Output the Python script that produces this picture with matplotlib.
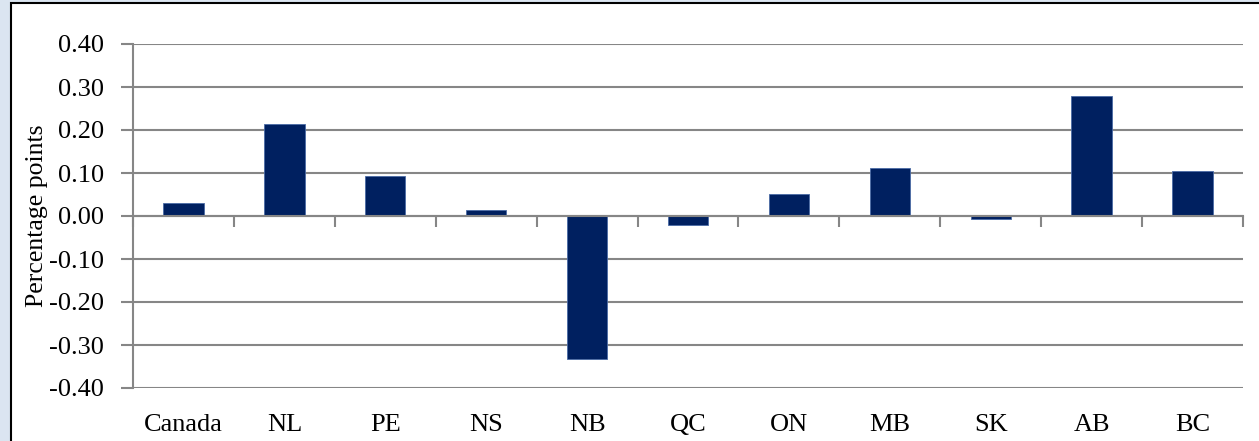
import numpy as np
import matplotlib.pyplot as plt
from matplotlib.patches import Rectangle

provinces = ['Canada', 'NL', 'PE', 'NS', 'NB', 'QC', 'ON', 'MB', 'SK', 'AB', 'BC']
change_pts = [0.030, 0.215, 0.092, 0.013, -0.333, -0.022, 0.052, 0.112, -0.007, 0.279, 0.104]
y_ticks = [-0.4, -0.3, -0.2, -0.1, 0.0, 0.1, 0.2, 0.3, 0.4]

plt.rcParams['font.family'] = ['Liberation Serif', 'DejaVu Serif']

fig = plt.figure(figsize=(12.59, 4.41), dpi=100)
fig.patch.set_facecolor('#dbe5f1')
# white chart area with a thin black frame, kept behind the axes
frame = Rectangle((11 / 1259, -0.1), 1.2, 1 - 3 / 441 + 0.1,
                  transform=fig.transFigure, facecolor='white',
                  edgecolor='black', linewidth=1.5, zorder=-10)
fig.add_artist(frame)

ax = fig.add_axes([133 / 1259, 53 / 441, 1110 / 1259, 344 / 441])
ax.set_facecolor('none')

x = np.arange(len(provinces))
ax.bar(x, change_pts, width=0.4, color='#002060', edgecolor='#4a6aa5',
       linewidth=0.6, zorder=3)

ax.set_xlim(-0.5, len(provinces) - 0.5)
ax.set_ylim(-0.4, 0.4)
ax.set_yticks(y_ticks)
ax.set_yticklabels([f'{v:.2f}' for v in y_ticks])
ax.grid(axis='y', color='#868686', linewidth=1.5, zorder=1)

ax.set_xticks(x)
ax.set_xticklabels(provinces)
ax.set_xticks(np.arange(-0.5, len(provinces)), minor=True)
ax.tick_params(axis='x', which='major', length=0, pad=19, labelsize=19)
ax.tick_params(axis='x', which='minor', bottom=False, top=True,
               direction='in', length=8, width=1.5, color='#868686')
ax.tick_params(axis='y', length=9, width=1.5, color='#868686', pad=12,
               labelsize=19)

# zero line carries the category tick marks
ax.spines['top'].set_position(('data', 0))
ax.spines['top'].set_color('#868686')
ax.spines['top'].set_linewidth(1.5)
ax.spines['top'].set_zorder(4)
ax.spines['left'].set_color('#868686')
ax.spines['left'].set_linewidth(1.5)
ax.spines['right'].set_visible(False)
ax.spines['bottom'].set_visible(False)

ax.set_ylabel('Percentage points', fontsize=18.5)
ax.yaxis.set_label_coords(-0.077, 0.5)

fig.savefig('out.png', dpi=100, facecolor=fig.get_facecolor())
